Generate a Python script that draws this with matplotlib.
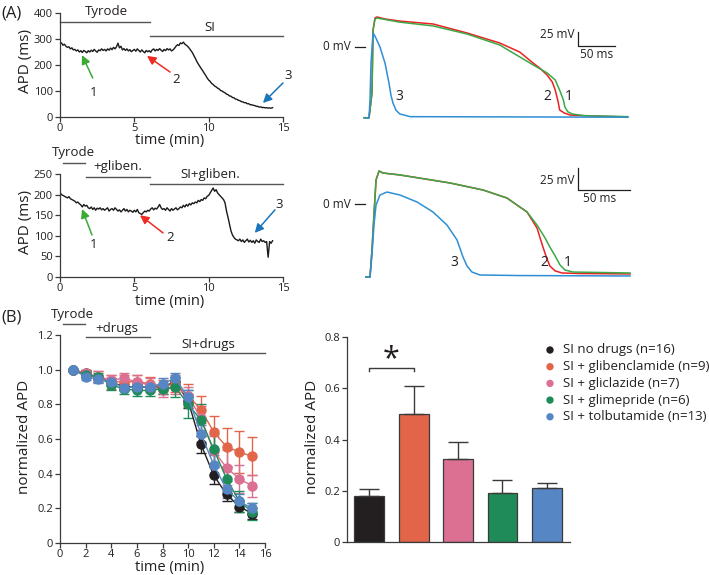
import matplotlib
matplotlib.use('Agg')
import matplotlib.pyplot as plt

W, H = 709, 575
plt.rcParams['font.family'] = ['Open Sans', 'DejaVu Sans']

# ---------------- data ----------------
# Panel A, top: APD trace (ms) every 0.1 min
apd_a1 = [282, 285, 276, 280, 272, 268, 270, 262, 266, 258,
          260, 254, 258, 250, 255, 248, 256, 252, 247, 255,
          250, 257, 252, 260, 254, 249, 258, 255, 262, 256,
          260, 254, 262, 257, 265, 259, 268, 262, 270, 284,
          266, 272, 258, 263, 256, 262, 254, 259, 251, 256,
          260, 253, 262, 256, 250, 258, 252, 247, 256, 251,
          255, 249, 258, 262, 254, 260, 256, 263, 257, 252,
          260, 255, 263, 258, 262, 254, 258, 264, 272, 278,
          275, 285, 282, 288, 280, 276, 271, 264, 256, 248,
          237, 226, 214, 204, 195, 186, 178, 168, 160, 150,
          142, 137, 129, 125, 119, 116, 111, 108, 102, 100,
          96, 93, 88, 86, 81, 80, 75, 74, 69, 68,
          64, 63, 59, 58, 55, 55, 51, 51, 47, 47,
          45, 44, 41, 41, 38, 39, 36, 37, 35, 36,
          34, 35, 34, 36]
# Panel A, bottom: APD trace (ms) every 0.1 min
apd_a2 = [205, 200, 198, 196, 194, 192, 195, 190, 188, 186,
          184, 180, 182, 178, 175, 170, 176, 172, 174, 168,
          166, 170, 164, 168, 162, 167, 165, 168, 163, 166,
          162, 165, 168, 160, 164, 166, 162, 168, 164, 160,
          163, 158, 162, 166, 160, 164, 158, 162, 160, 157,
          162, 158, 164, 156, 154, 152, 156, 160, 158, 162,
          160, 165, 168, 163, 167, 165, 170, 176, 168, 164,
          166, 162, 168, 164, 160, 166, 162, 165, 168, 163,
          166, 170, 168, 174, 170, 176, 172, 178, 175, 180,
          178, 182, 180, 186, 183, 188, 186, 192, 190, 196,
          198, 204, 210, 216, 208, 212, 204, 200, 196, 192,
          188, 180, 160, 145, 128, 112, 102, 96, 92, 90,
          88, 92, 86, 90, 84, 88, 92, 85, 89, 84,
          88, 82, 90, 86, 84, 92, 86, 88, 84, 86,
          48, 86, 82, 88]
t_a1 = [i / 10 for i in range(len(apd_a1))]
t_a2 = [i / 10 for i in range(len(apd_a2))]

# Action potential traces (time ms, voltage mV), top set
ap1_red_t = [-5.4, 0, 1.4, 5.4, 6.8, 9.5, 12.2, 23, 43, 88, 134, 178, 205, 223, 232, 242, 249, 253, 257, 259, 265, 273, 300, 351]
ap1_red_v = [-131, -131, -131, -85, 31, 54, 55.6, 51.9, 48, 42.6, 25.9, 7.4, -9.3, -29.6, -38.9, -51.9, -64.8, -79.6, -101.9, -116.7, -122, -126, -127.8, -129.6]
ap1_grn_t = [-5.4, 0, 1.4, 5.4, 6.8, 9.5, 12.2, 43, 88, 134, 178, 223, 242, 253, 259, 264, 266, 270, 276, 291, 351]
ap1_grn_v = [-131, -131, -131, -85, 31, 52, 53.7, 46, 39, 24, 3.7, -33, -48, -61, -80, -98, -111, -120, -124, -127, -129]
ap1_blu_t = [-4.1, 1.4, 2.7, 4.1, 6.8, 9.5, 16.2, 23, 28.4, 31, 33.8, 37.8, 43, 57, 351]
ap1_blu_v = [-131.5, -131.5, -98, -28, 26, 20, 0, -30, -67, -89, -104, -117, -124, -129, -130]
# Action potential traces, bottom set
ap2_red_t = [-3.8, 0, 1.9, 3.8, 5.8, 8.7, 12.5, 28.8, 76.9, 108.7, 131.7, 151, 160.6, 166.3, 170.2, 173, 178, 184.6, 202, 250]
ap2_red_v = [-83, -83, -52, -12.5, 27.3, 37.5, 35.2, 33, 23.9, 15.9, 6.8, -9.1, -27.3, -48.9, -62.5, -70.5, -76, -78.4, -79, -79.5]
ap2_grn_t = [-3.8, 0, 1.9, 3.8, 5.8, 8.7, 12.5, 28.8, 76.9, 108.7, 131.7, 151, 160.6, 168.3, 173, 178, 182.7, 187.5, 195.2, 221, 250]
ap2_grn_v = [-83, -83, -52, -12.5, 27.3, 37.5, 35.2, 33, 23.9, 15.9, 6.8, -9.1, -23.9, -38.6, -48.9, -59, -69.3, -75, -77.3, -77.8, -78.4]
ap2_blu_t = [-3.8, 0, 1.9, 3.8, 5.8, 9.6, 16.3, 28.8, 45.2, 60.6, 74, 83.7, 89.4, 93.3, 98, 105.8, 144, 250]
ap2_blu_v = [-83, -83, -58, -23.9, -1.1, 10.2, 13.6, 10.2, 2.3, -9.1, -23.9, -40.9, -60.2, -70.5, -77.3, -80.7, -81.3, -81.8]

# Panel B, left: normalized APD time course
time_b = [1, 2, 3, 4, 5, 6, 7, 8, 9, 10, 11, 12, 13, 14, 15]
series_names = ['SI no drugs (n=16)', 'SI + glibenclamide (n=9)', 'SI + gliclazide (n=7)',
                'SI + glimepride (n=6)', 'SI + tolbutamide (n=13)']
mean_nodrug = [1.0, 0.98, 0.95, 0.93, 0.90, 0.90, 0.90, 0.90, 0.93, 0.82, 0.57, 0.39, 0.28, 0.21, 0.17]
sem_nodrug = [0, 0.02, 0.02, 0.02, 0.02, 0.02, 0.02, 0.02, 0.03, 0.04, 0.05, 0.05, 0.04, 0.03, 0.03]
mean_gliben = [1.0, 0.97, 0.96, 0.93, 0.93, 0.93, 0.92, 0.90, 0.92, 0.85, 0.77, 0.64, 0.555, 0.525, 0.50]
sem_gliben = [0, 0.02, 0.03, 0.04, 0.04, 0.04, 0.04, 0.04, 0.05, 0.065, 0.08, 0.095, 0.11, 0.12, 0.11]
mean_glicla = [1.0, 0.98, 0.96, 0.94, 0.95, 0.93, 0.91, 0.88, 0.90, 0.85, 0.72, 0.53, 0.435, 0.37, 0.33]
sem_glicla = [0, 0.02, 0.03, 0.03, 0.03, 0.04, 0.04, 0.04, 0.04, 0.05, 0.07, 0.09, 0.10, 0.08, 0.065]
mean_glime = [1.0, 0.97, 0.96, 0.91, 0.89, 0.88, 0.88, 0.89, 0.90, 0.80, 0.71, 0.54, 0.37, 0.24, 0.18]
sem_glime = [0, 0.02, 0.02, 0.03, 0.03, 0.03, 0.03, 0.03, 0.06, 0.08, 0.09, 0.09, 0.07, 0.06, 0.05]
mean_tolbu = [1.0, 0.96, 0.945, 0.93, 0.895, 0.90, 0.90, 0.92, 0.95, 0.84, 0.63, 0.45, 0.31, 0.24, 0.20]
sem_tolbu = [0, 0.02, 0.02, 0.02, 0.02, 0.02, 0.02, 0.03, 0.03, 0.04, 0.05, 0.06, 0.05, 0.04, 0.03]

# Panel B, right: bar chart
bar_values = [0.18, 0.50, 0.325, 0.19, 0.21]
bar_errors = [0.025, 0.11, 0.065, 0.052, 0.02]

colors = ['#231f20', '#e2654a', '#db7092', '#1f8b58', '#5686c4']

# ---------------- figure ----------------
fig = plt.figure(figsize=(W / 100, H / 100), dpi=100)

ov = fig.add_axes([0, 0, 1, 1])
ov.set_xlim(0, W)
ov.set_ylim(H, 0)
ov.axis('off')

def rect(l, t, r, b):
    return [l / W, 1 - b / H, (r - l) / W, (b - t) / H]

SP = '#3a3a3a'
TXT = '#231f20'
LAB = 11
XLAB = 10.5
TK = 8

def style(ax):
    for s in ['top', 'right']:
        ax.spines[s].set_visible(False)
    for s in ['left', 'bottom']:
        ax.spines[s].set_color(SP)
        ax.spines[s].set_linewidth(0.9)
    ax.tick_params(direction='out', length=3.5, width=0.9, color=SP,
                   labelsize=TK, pad=1.5, labelcolor=TXT)
    ax.tick_params(axis='x', pad=1.0)
    ax.patch.set_visible(False)

def label_bar(ax, x0, x1, y, text, tx, ty, fs=9.5):
    ax.plot([x0, x1], [y, y], color='#555555', lw=1.0, clip_on=False)
    ax.text(tx, ty, text, ha='center', va='center', fontsize=fs, color=TXT, clip_on=False)

def arrow(ax, tip, tail, color, lab, lpos):
    ax.annotate('', xy=tip, xytext=tail,
                arrowprops=dict(arrowstyle='-|>', color=color, lw=1.1, mutation_scale=13,
                                shrinkA=0, shrinkB=0))
    ax.text(lpos[0], lpos[1], lab, ha='center', va='center', fontsize=9.5, color=TXT)

GREEN_A = '#3aaa35'
RED_A = '#ee2a24'
BLUE_A = '#1b75bb'

# ---- A top ----
ax1 = fig.add_axes(rect(60, 13, 283, 117))
style(ax1)
ax1.plot(t_a1, apd_a1, color='#1a1a1a', lw=1.0)
ax1.set_xlim(0, 15)
ax1.set_ylim(0, 400)
ax1.set_xticks([0, 5, 10, 15])
ax1.set_yticks([0, 100, 200, 300, 400])
label_bar(ax1, 0, 6.05, 365, 'Tyrode', 3.1, 404)
label_bar(ax1, 6.05, 15, 311, 'SI', 10.1, 346)
arrow(ax1, (1.48, 238), (2.2, 150), GREEN_A, '1', (2.29, 96))
arrow(ax1, (5.85, 235), (7.4, 173), RED_A, '2', (7.8, 146))
arrow(ax1, (13.65, 54), (15.0, 131), BLUE_A, '3', (15.33, 158))
ov.text(25, 61, 'APD (ms)', rotation=90, ha='center', va='center', fontsize=LAB, color=TXT)
ov.text(170, 140.5, 'time (min)', ha='center', va='center', fontsize=XLAB, color=TXT)
ov.text(1, 13, '(A)', ha='left', va='center', fontsize=12, color=TXT)

# ---- A bottom ----
ax2 = fig.add_axes(rect(60, 174, 283, 277))
style(ax2)
ax2.plot(t_a2, apd_a2, color='#1a1a1a', lw=1.0)
ax2.set_xlim(0, 15)
ax2.set_ylim(0, 250)
ax2.set_xticks([0, 5, 10, 15])
ax2.set_yticks([0, 50, 100, 150, 200, 250])
label_bar(ax2, 0.2, 1.68, 277, 'Tyrode', 0.9, 301)
label_bar(ax2, 1.75, 6.05, 243, '+gliben.', 3.9, 267)
label_bar(ax2, 6.05, 15, 226, 'SI+gliben.', 10.1, 250)
arrow(ax2, (1.48, 165), (2.15, 102), GREEN_A, '1', (2.29, 78))
arrow(ax2, (5.38, 150), (6.93, 107), RED_A, '2', (7.4, 97))
arrow(ax2, (13.1, 107), (14.46, 163), BLUE_A, '3', (14.73, 177))
ov.text(25, 222, 'APD (ms)', rotation=90, ha='center', va='center', fontsize=LAB, color=TXT)
ov.text(170, 301, 'time (min)', ha='center', va='center', fontsize=XLAB, color=TXT)

# ---- AP traces ----
RED_T = '#ed2024'
GRN_T = '#3aa845'
BLU_T = '#2e8fd4'

def trace_axes(l, t, r, b, X0, st, Y0, sv):
    ax = fig.add_axes(rect(l, t, r, b))
    ax.axis('off')
    ax.set_xlim((l - X0) / st, (r - X0) / st)
    ax.set_ylim((Y0 - b) / sv, (Y0 - t) / sv)
    return ax

# top traces: origin px (368, 47), 0.74 px/ms, 0.54 px/mV
X01, ST1, Y01, SV1 = 368, 0.74, 47, 0.54
axt1 = trace_axes(300, 0, 660, 130, X01, ST1, Y01, SV1)
axt1.plot(ap1_red_t, ap1_red_v, color=RED_T, lw=1.1)
axt1.plot(ap1_grn_t, ap1_grn_v, color=GRN_T, lw=1.1)
axt1.plot(ap1_blu_t, ap1_blu_v, color=BLU_T, lw=1.1)
axt1.plot([(355 - X01) / ST1, (365 - X01) / ST1], [0, 0], color=TXT, lw=0.9)
axt1.plot([284, 284, 334], [26.9, 1.9, 1.9], color=TXT, lw=0.9)
for lab, px in [('3', 399), ('2', 547), ('1', 569)]:
    axt1.text((px - X01) / ST1, (Y01 - 97) / SV1, lab, ha='center', va='center', fontsize=10, color=TXT)
ov.text(351, 47, '0 mV', ha='right', va='center', fontsize=8.5, color=TXT)
ov.text(575, 35, '25 mV', ha='right', va='center', fontsize=8.5, color=TXT)
ov.text(597, 54, '50 ms', ha='center', va='center', fontsize=8.5, color=TXT)

# bottom traces: origin px (370, 204), 1.04 px/ms, 0.88 px/mV
X02, ST2, Y02, SV2 = 370, 1.04, 204, 0.88
axt2 = trace_axes(300, 140, 660, 290, X02, ST2, Y02, SV2)
axt2.plot(ap2_red_t, ap2_red_v, color=RED_T, lw=1.1)
axt2.plot(ap2_grn_t, ap2_grn_v, color=GRN_T, lw=1.1)
axt2.plot(ap2_blu_t, ap2_blu_v, color=BLU_T, lw=1.1)
axt2.plot([(355 - X02) / ST2, (365 - X02) / ST2], [0, 0], color=TXT, lw=0.9)
axt2.plot([200, 200, 250], [40.9, 15.9, 15.9], color=TXT, lw=0.9)
for lab, px in [('3', 454), ('2', 544), ('1', 568)]:
    axt2.text((px - X02) / ST2, (Y02 - 263) / SV2, lab, ha='center', va='center', fontsize=10, color=TXT)
ov.text(351, 204, '0 mV', ha='right', va='center', fontsize=8.5, color=TXT)
ov.text(575, 180, '25 mV', ha='right', va='center', fontsize=8.5, color=TXT)
ov.text(600, 199, '50 ms', ha='center', va='center', fontsize=8.5, color=TXT)

# ---- B left ----
ax3 = fig.add_axes(rect(60, 335, 265, 543))
style(ax3)
means = [mean_nodrug, mean_gliben, mean_glicla, mean_glime, mean_tolbu]
sems = [sem_nodrug, sem_gliben, sem_glicla, sem_glime, sem_tolbu]
for m, e, c in zip(means, sems, colors):
    ax3.errorbar(time_b, m, yerr=e, fmt='-o', color=c, ms=6.5, lw=1.0, mec=c,
                 elinewidth=1.0, capsize=3.5, capthick=1.0)
ax3.set_xlim(0, 16)
ax3.set_ylim(0, 1.2)
ax3.set_xticks(list(range(0, 17, 2)))
ax3.set_yticks([0, 0.2, 0.4, 0.6, 0.8, 1.0, 1.2])
ax3.set_yticklabels(['0', '0.2', '0.4', '0.6', '0.8', '1.0', '1.2'])
label_bar(ax3, 0.23, 1.95, 1.266, 'Tyrode', 1.0, 1.318)
label_bar(ax3, 2.03, 7.03, 1.19, '+drugs', 4.45, 1.237)
label_bar(ax3, 7.03, 16.0, 1.098, 'SI+drugs', 11.56, 1.145)
ov.text(25, 437, 'normalized APD', rotation=90, ha='center', va='center', fontsize=LAB, color=TXT)
ov.text(170, 567.5, 'time (min)', ha='center', va='center', fontsize=XLAB, color=TXT)
ov.text(1, 317, '(B)', ha='left', va='center', fontsize=12, color=TXT)

# ---- B right ----
ax4 = fig.add_axes(rect(347, 337, 570, 542))
style(ax4)
xb = list(range(len(bar_values)))
ax4.bar(xb, bar_values, width=0.67, color=colors, edgecolor=SP, linewidth=0.9)
ax4.errorbar(xb, bar_values, yerr=[[0] * len(bar_errors), bar_errors], fmt='none',
             ecolor=SP, elinewidth=1.0, capsize=7, capthick=1.0)
ax4.set_xlim(-0.5, 4.52)
ax4.set_ylim(0, 0.8)
ax4.set_xticks([])
ax4.set_yticks([0, 0.2, 0.4, 0.6, 0.8])
ax4.set_yticklabels(['0', '0.2', '0.4', '0.6', '0.8'])
ax4.plot([0, 0, 1, 1], [0.668, 0.68, 0.68, 0.668], color=SP, lw=1.0, clip_on=False)
ax4.text(0.5, 0.715, '*', ha='center', va='center', fontsize=22, color=TXT, clip_on=False)
ov.text(312, 437, 'normalized APD', rotation=90, ha='center', va='center', fontsize=LAB, color=TXT)

# legend
for i, (name, c) in enumerate(zip(series_names, colors)):
    y = 350 + i * 16.7
    ov.scatter([550], [y], s=28, color=c, edgecolors='none')
    ov.text(563, y, name, ha='left', va='center', fontsize=9.5, color=TXT)

fig.savefig('out.png', dpi=100)
